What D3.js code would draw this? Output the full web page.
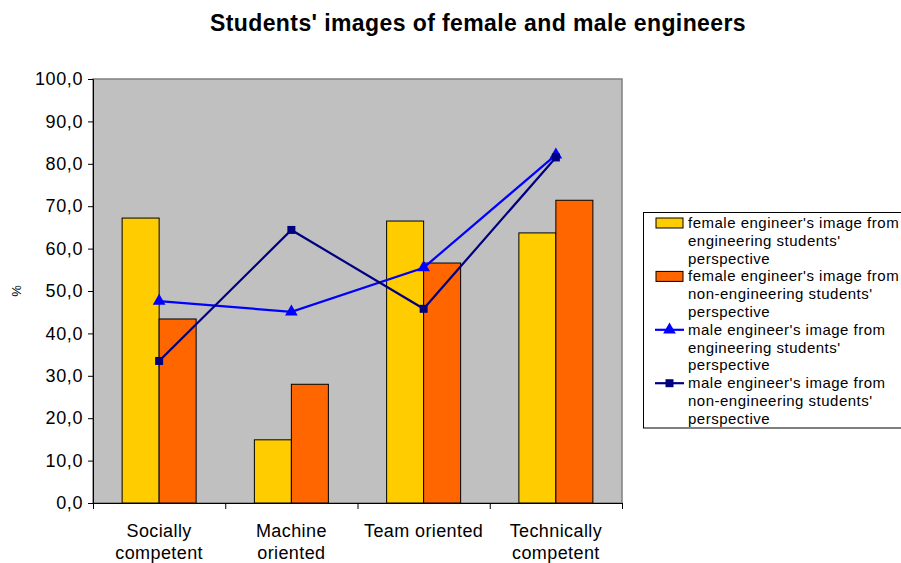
<!DOCTYPE html>
<html><head><meta charset="utf-8">
<script src="https://cdn.jsdelivr.net/npm/d3@7"></script>
<style>body{margin:0;background:#fff;} text{font-family:Arial,"Liberation Sans",sans-serif;}</style>
</head><body><svg id="c" width="901" height="563"></svg>
<script>
const categories = [["Socially","competent"],["Machine","oriented"],["Team oriented"],["Technically","competent"]];
const femaleEng = [67.2, 14.9, 66.5, 63.7];
const femaleNonEng = [43.4, 28.0, 56.6, 71.4];
const maleEng = [47.6, 45.1, 55.5, 82.1];
const maleNonEng = [33.5, 64.4, 45.8, 81.5];
const yTicks = [0,10,20,30,40,50,60,70,80,90,100];
const legendLabels = [
  ["female engineer's image from","engineering students'","perspective"],
  ["female engineer's image from","non-engineering students'","perspective"],
  ["male engineer's image from","engineering students'","perspective"],
  ["male engineer's image from","non-engineering students'","perspective"]
];

const svg = d3.select("#c");
const L=93, R=622, T=79, B=503;
const idx = d3.range(categories.length);
const x = d3.scaleBand().domain(idx).range([L,R]).paddingInner(0).paddingOuter(0);
const y = d3.scaleLinear().domain([0,100]).range([B,T]);
const barW = 37;

svg.append("text").attr("x",478).attr("y",31).attr("text-anchor","middle")
  .attr("font-size",23).attr("font-weight","bold").attr("letter-spacing",0.4)
  .text("Students' images of female and male engineers");

svg.append("rect").attr("x",L).attr("y",T).attr("width",R-L).attr("height",B-T)
  .attr("fill","#c0c0c0").attr("stroke","#808080").attr("stroke-width",1.5);

// y axis
const ya = svg.append("g").attr("transform",`translate(${L},0)`)
  .call(d3.axisLeft(y).tickValues(yTicks).tickSize(5).tickPadding(5)
    .tickFormat(d=>d3.format(".1f")(d).replace(".",",")));
ya.select(".domain").attr("stroke","#000");
ya.selectAll("line").attr("stroke","#000");
ya.selectAll("text").attr("font-size",18).attr("letter-spacing",0.6).attr("font-family","Arial, 'Liberation Sans', sans-serif").attr("fill","#000");

// x axis
const xa = svg.append("g").attr("transform",`translate(0,${B})`)
  .call(d3.axisBottom(d3.scaleLinear().domain([0,4]).range([L,R])).tickValues([0,1,2,3,4]).tickSize(6).tickFormat(""));
xa.select(".domain").attr("stroke","#000");
xa.selectAll("line").attr("stroke","#000");

svg.append("text").attr("transform","translate(21,291) rotate(-90)").attr("text-anchor","middle")
  .attr("font-size",13).text("%");

// category labels
idx.forEach(i=>{
  const t = svg.append("text").attr("x",x(i)+x.bandwidth()/2).attr("y",537).attr("text-anchor","middle")
    .attr("font-size",18).attr("letter-spacing",0.4);
  categories[i].forEach((s,j)=>t.append("tspan").attr("x",x(i)+x.bandwidth()/2).attr("dy",j?22:0).text(s));
});

const cx = i => x(i)+x.bandwidth()/2;
svg.append("g").selectAll("rect").data(femaleEng).join("rect")
  .attr("x",(d,i)=>cx(i)-barW).attr("y",d=>y(d)).attr("width",barW).attr("height",d=>B-y(d))
  .attr("fill","#ffcc00").attr("stroke","#000").attr("stroke-width",1);
svg.append("g").selectAll("rect").data(femaleNonEng).join("rect")
  .attr("x",(d,i)=>cx(i)).attr("y",d=>y(d)).attr("width",barW).attr("height",d=>B-y(d))
  .attr("fill","#ff6600").attr("stroke","#000").attr("stroke-width",1);

const line = d3.line().x((d,i)=>cx(i)).y(d=>y(d));
const tri = d3.symbol().type(d3.symbolTriangle).size(70);
const sq = d3.symbol().type(d3.symbolSquare).size(64);

svg.append("path").datum(maleEng).attr("d",line).attr("fill","none").attr("stroke","#0000ff").attr("stroke-width",2.2);
svg.append("path").datum(maleNonEng).attr("d",line).attr("fill","none").attr("stroke","#000080").attr("stroke-width",2.2);
svg.append("g").selectAll("path").data(maleEng).join("path")
  .attr("transform",(d,i)=>`translate(${cx(i)},${y(d)})`).attr("d",tri).attr("fill","#0000ff");
svg.append("g").selectAll("path").data(maleNonEng).join("path")
  .attr("transform",(d,i)=>`translate(${cx(i)},${y(d)})`).attr("d",sq).attr("fill","#000080");

// legend
const lg = svg.append("g");
lg.append("rect").attr("x",643.5).attr("y",212.5).attr("width",270).attr("height",215.5)
  .attr("fill","#fff").attr("stroke","#000").attr("stroke-width",1);
const lineH = 17.8, y0 = 223;
legendLabels.forEach((lines,k)=>{
  const yc = y0 + k*3*lineH;
  if(k<2){
    lg.append("rect").attr("x",656).attr("y",yc-5).attr("width",27).attr("height",10)
      .attr("fill",k? "#ff6600":"#ffcc00").attr("stroke","#000");
  } else {
    const col = k===2?"#0000ff":"#000080";
    lg.append("line").attr("x1",655).attr("x2",684).attr("y1",yc).attr("y2",yc).attr("stroke",col).attr("stroke-width",2.2);
    lg.append("path").attr("transform",`translate(669.5,${yc})`).attr("d",k===2?tri:sq).attr("fill",col);
  }
  const t = lg.append("text").attr("font-size",15).attr("letter-spacing",0.5);
  lines.forEach((s,j)=>t.append("tspan").attr("x",688).attr("y",yc+5+j*lineH).text(s));
});
</script></body></html>
